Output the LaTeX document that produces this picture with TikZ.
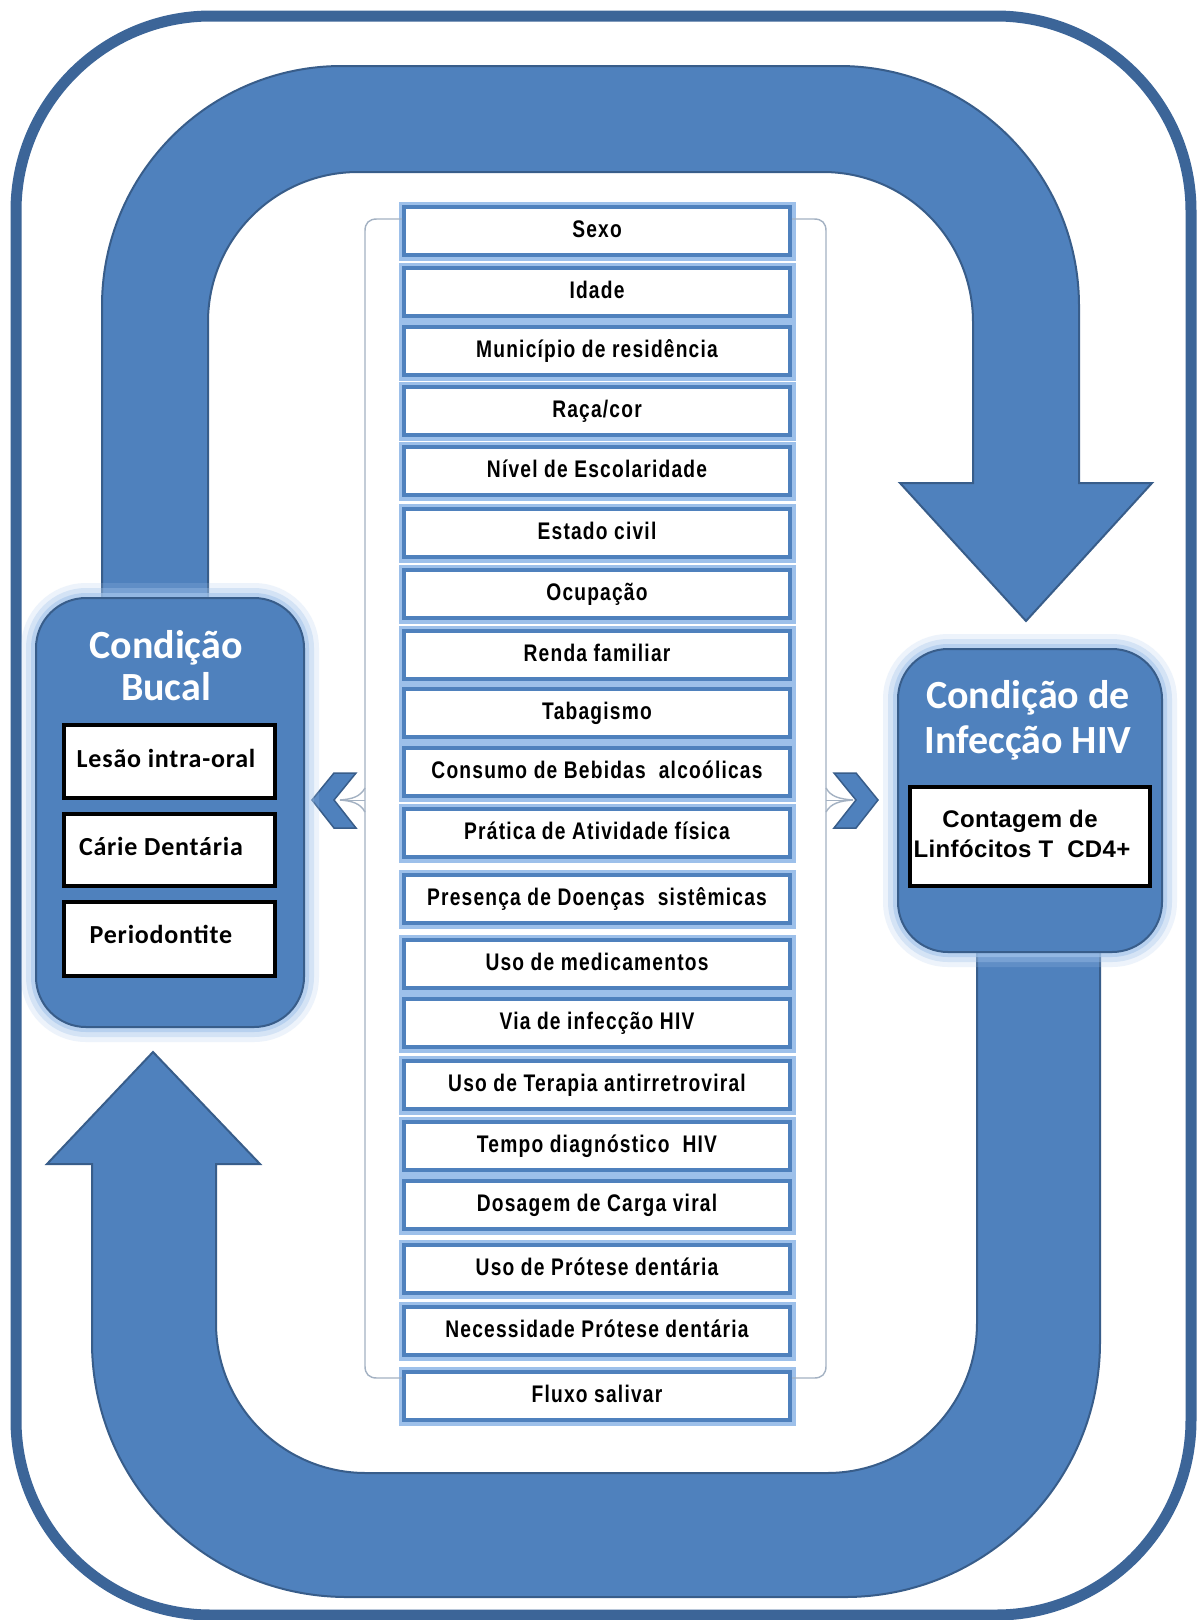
\documentclass[tikz,border=0pt]{standalone}
\usepackage{fontspec}
\newfontfamily\titlefont{Carlito}
\newfontfamily\innerfont[LetterSpace=3]{Carlito}
\newfontfamily\hivfont[LetterSpace=1.5]{Liberation Sans}
\newfontfamily\stackfont[FakeStretch=0.8,LetterSpace=5]{Liberation Sans}
\definecolor{bandblue}{HTML}{4F81BD}
\definecolor{banddark}{HTML}{385D8A}
\definecolor{framec}{HTML}{3C6598}
\definecolor{glowc}{HTML}{A6C6EC}
\definecolor{stackglow}{HTML}{9DC0EA}
\definecolor{bracketc}{HTML}{A3B1C2}
\begin{document}
\begin{tikzpicture}[x=1pt,y=-1pt,
  band/.style={fill=bandblue, draw=banddark, line width=2pt, line join=miter},
  stackbox/.style={draw=bandblue, line width=4pt, fill=white, minimum width=386pt,
    minimum height=48pt, inner sep=0pt, text height=30pt, text depth=18pt, anchor=north,
    preaction={draw=stackglow, line width=11pt},
    font=\stackfont\bfseries\fontsize{24}{28}\selectfont},
  bigbox/.style={rectangle, rounded corners=50pt, fill=bandblue, draw=banddark, line width=2pt,
    inner sep=0pt,
    preaction={draw=glowc, line width=30pt, opacity=0.2},
    preaction={draw=glowc, line width=20pt, opacity=0.35},
    preaction={draw=glowc, line width=10pt, opacity=0.6}},
  innerbox/.style={rectangle, draw=black, line width=4pt, fill=white, inner sep=0pt},
  titletext/.style={anchor=base, text=white, inner sep=0pt,
    font=\titlefont\bfseries\fontsize{40}{48}\selectfont},
  innertext/.style={anchor=base, inner sep=0pt, font=\innerfont\bfseries\fontsize{26}{30}\selectfont},
  hivtext/.style={anchor=base, inner sep=0pt, font=\hivfont\bfseries\fontsize{24}{28}\selectfont},
  bracket/.style={draw=bracketc, line width=1.4pt},
  chevron/.style={fill=bandblue, draw=banddark, line width=1.5pt, line join=miter}
]
\useasboundingbox (0,0) rectangle (1197,1620);
\fill[white] (0,0) rectangle (1197,1620);

% outer frame
\draw[framec, line width=11pt, rounded corners=195pt] (16,16) rectangle (1191,1615);

% top band (U-turn arrow, pointing down on the right)
\path[band] (102,612) -- (102,306) .. controls (102,173.4) and (209.4,66) .. (342,66)
  -- (839,66) .. controls (971.6,66) and (1079,173.4) .. (1079,306)
  -- (1079,483) -- (1152,483) -- (1026,621) -- (900,483) -- (973,483)
  -- (973,322) .. controls (973,239.2) and (905.8,172) .. (823,172)
  -- (358,172) .. controls (275.2,172) and (208,239.2) .. (208,322)
  -- (208,612) -- cycle;

% bottom band (U-turn arrow, pointing up on the left)
\path[band] (977,940) -- (977,1323) .. controls (977,1405.8) and (909.8,1473) .. (827,1473)
  -- (366,1473) .. controls (283.2,1473) and (216,1405.8) .. (216,1323)
  -- (216,1164) -- (260,1164) -- (153,1052) -- (47,1164) -- (92,1164)
  -- (92,1342) .. controls (92,1482.8) and (206.2,1597) .. (347,1597)
  -- (845,1597) .. controls (985.8,1597) and (1100,1482.8) .. (1100,1342)
  -- (1100,940) -- cycle;

% stack of factors
\node[stackbox] (s1)  at (597,205)  {Sexo};
\node[stackbox] (s2)  at (597,266)  {Idade};
\node[stackbox] (s3)  at (597,325)  {Município de residência};
\node[stackbox] (s4)  at (597,385)  {Raça/cor};
\node[stackbox] (s5)  at (597,445)  {Nível de Escolaridade};
\node[stackbox] (s6)  at (597,507)  {Estado civil};
\node[stackbox] (s7)  at (597,568)  {Ocupação};
\node[stackbox] (s8)  at (597,629)  {Renda familiar};
\node[stackbox] (s9)  at (597,687)  {Tabagismo};
\node[stackbox] (s10) at (597,746)  {Consumo de Bebidas\ \ alcoólicas};
\node[stackbox] (s11) at (597,807)  {Prática de Atividade física};
\node[stackbox] (s12) at (597,873)  {Presença de Doenças\ \ sistêmicas};
\node[stackbox] (s13) at (597,938)  {Uso de medicamentos};
\node[stackbox] (s14) at (597,997)  {Via de infecção HIV};
\node[stackbox] (s15) at (597,1059) {Uso de Terapia antirretroviral};
\node[stackbox] (s16) at (597,1120) {Tempo diagnóstico\ \ HIV};
\node[stackbox] (s17) at (597,1179) {Dosagem de Carga viral};
\node[stackbox] (s18) at (597,1243) {Uso de Prótese dentária};
\node[stackbox] (s19) at (597,1305) {Necessidade Prótese dentária};
\node[stackbox] (s20) at (597,1370) {Fluxo salivar};

% brackets
\coordinate (bl) at (340,800);
\coordinate (br) at (853,800);
\draw[bracket] (s1.west |- 0,219) -- (377,219) .. controls (369,219) and (365,223) .. (365,231)
  -- (365,1366) .. controls (365,1374) and (369,1378) .. (377,1378) -- (s20.west |- 0,1378);
\draw[bracket] (s1.east |- 0,219) -- (814,219) .. controls (822,219) and (826,223) .. (826,231)
  -- (826,1366) .. controls (826,1374) and (822,1378) .. (814,1378) -- (s20.east |- 0,1378);
\draw[bracket] (365,788) .. controls (360,797) and (352,799) .. (bl);
\draw[bracket] (365,812) .. controls (360,803) and (352,801) .. (bl);
\draw[bracket, line width=0.8pt] (365,800) -- (bl);
\draw[bracket] (826,788) .. controls (831,797) and (840,799) .. (br);
\draw[bracket] (826,812) .. controls (831,803) and (840,801) .. (br);
\draw[bracket, line width=0.8pt] (826,800) -- (br);

% chevrons
\path[chevron] (312,800) -- (334,773) -- (356,773) -- (334,800) -- (356,828) -- (334,828) -- cycle;
\path[chevron] (878,800) -- (856,773) -- (834,773) -- (856,800) -- (834,828) -- (856,828) -- cycle;

% big boxes
\node[bigbox, minimum width=268pt, minimum height=429pt] (lb) at (170,812.5) {};
\node[bigbox, minimum width=264pt, minimum height=303pt] (rb) at (1030,800.5) {};

\node[titletext] (lt1) at (166,658) {Condição};
\node[titletext] (lt2) at (166,700) {Bucal};
\node[titletext] (rt1) at (1028,708) {Condição de};
\node[titletext] (rt2) at (1028,753) {Infecção HIV};

% inner boxes left
\node[innerbox, minimum width=211pt, minimum height=73pt] (b1) at (169.5,761.5) {};
\node[innerbox, minimum width=211pt, minimum height=72pt] (b2) at (169.5,850) {};
\node[innerbox, minimum width=211pt, minimum height=74pt] (b3) at (169.5,939) {};
\node[innertext] (b1t) at (166,767) {Lesão intra-oral};
\node[innertext] (b2t) at (161,855) {Cárie Dentária};
\node[innertext] (b3t) at (161,943) {Periodontite};

% inner box right
\node[innerbox, minimum width=240pt, minimum height=99pt] (c1) at (1030,836.5) {};
\node[hivtext] (c1a) at (1020,827) {Contagem de};
\node[hivtext] (c1b) at (1022,857) {Linfócitos T\ \ CD4+};
\end{tikzpicture}
\end{document}
